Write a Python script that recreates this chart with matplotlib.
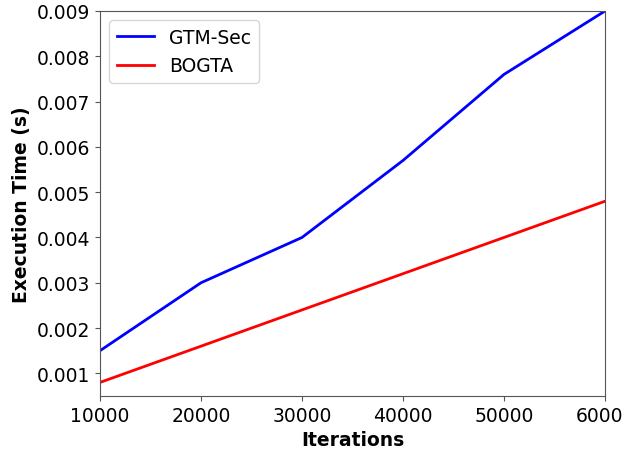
import matplotlib
matplotlib.use('Agg')
import matplotlib.pyplot as plt

# Execution time per number of iterations
iterations = [10000, 20000, 30000, 40000, 50000, 60000]
gtm_sec = [0.0015, 0.0030, 0.0040, 0.0057, 0.0076, 0.0090]
bogta = [0.0008, 0.0016, 0.0024, 0.0032, 0.0040, 0.0048]

fig = plt.figure(figsize=(6.22, 4.52), dpi=100)
ax = fig.add_axes([100 / 622, 55 / 452, 505 / 622, 385 / 452])

ax.plot(iterations, gtm_sec, color='blue', linewidth=2, label='GTM-Sec')
ax.plot(iterations, bogta, color='red', linewidth=2, label='BOGTA')

ax.set_xlim(10000, 60000)
ax.set_ylim(0.0005, 0.009)
ax.set_xticks(iterations)
ax.set_yticks([0.001, 0.002, 0.003, 0.004, 0.005, 0.006, 0.007, 0.008, 0.009])
ax.set_yticklabels(['0.001', '0.002', '0.003', '0.004', '0.005', '0.006', '0.007', '0.008', '0.009'])

ax.set_xlabel('Iterations', fontsize=13.5, fontweight='bold')
ax.set_ylabel('Execution Time (s)', fontsize=13.5, fontweight='bold')
ax.tick_params(labelsize=13.5, color='#555555')
for s in ax.spines.values():
    s.set_color('#555555')

ax.legend(loc='upper left', fontsize=13.5)

fig.savefig('out.png', dpi=100)
